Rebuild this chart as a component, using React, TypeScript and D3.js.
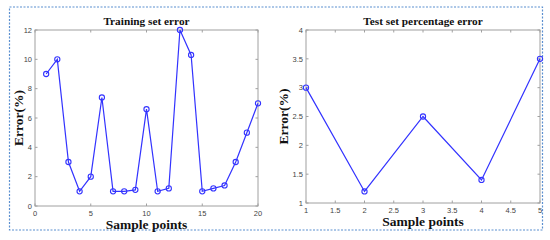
import * as d3 from "d3";
import React, { useEffect, useRef } from "react";

const trainX = [1, 2, 3, 4, 5, 6, 7, 8, 9, 10, 11, 12, 13, 14, 15, 16, 17, 18, 19, 20];
const trainErr = [9, 10, 3, 1, 2, 7.4, 1, 1, 1.1, 6.6, 1, 1.2, 12, 10.3, 1, 1.2, 1.4, 3, 5, 7];
const trainXTicks = [0, 5, 10, 15, 20];
const trainYTicks = [0, 2, 4, 6, 8, 10, 12];

const testX = [1, 2, 3, 4, 5];
const testErr = [3, 1.2, 2.5, 1.4, 3.5];
const testXTicks = [1, 1.5, 2, 2.5, 3, 3.5, 4, 4.5, 5];
const testYTicks = [1, 1.5, 2, 2.5, 3, 3.5, 4];

const W = 550;
const H = 240;
const LINE = "#3333ff";

function drawPanel(svg, opts) {
  const { left, right, top, bottom, xs, ys, xDomain, yDomain, xTicks, yTicks, title, ylabX } = opts;
  const x = d3.scaleLinear().domain(xDomain).range([left, right]);
  const y = d3.scaleLinear().domain(yDomain).range([bottom, top]);
  const g = svg.append("g");

  g.append("rect")
    .attr("x", left)
    .attr("y", top)
    .attr("width", right - left)
    .attr("height", bottom - top)
    .attr("fill", "white")
    .attr("stroke", "#a0a0a0")
    .attr("stroke-width", 1);

  const tl = 2.5;
  // ticks inward on all four sides
  xTicks.forEach((t) => {
    g.append("line").attr("x1", x(t)).attr("x2", x(t)).attr("y1", bottom).attr("y2", bottom - tl).attr("stroke", "#a0a0a0");
    g.append("line").attr("x1", x(t)).attr("x2", x(t)).attr("y1", top).attr("y2", top + tl).attr("stroke", "#a0a0a0");
    g.append("text")
      .attr("x", x(t))
      .attr("y", bottom + 10)
      .attr("text-anchor", "middle")
      .attr("font-family", "Liberation Sans, Arial, sans-serif")
      .attr("font-size", 7.5)
      .attr("fill", "#444")
      .text(String(t));
  });
  yTicks.forEach((t) => {
    g.append("line").attr("x1", left).attr("x2", left + tl).attr("y1", y(t)).attr("y2", y(t)).attr("stroke", "#a0a0a0");
    g.append("line").attr("x1", right).attr("x2", right - tl).attr("y1", y(t)).attr("y2", y(t)).attr("stroke", "#a0a0a0");
    g.append("text")
      .attr("x", left - 3)
      .attr("y", y(t) + 2.7)
      .attr("text-anchor", "end")
      .attr("font-family", "Liberation Sans, Arial, sans-serif")
      .attr("font-size", 7.5)
      .attr("fill", "#444")
      .text(String(t));
  });

  const pts = xs.map((v, i) => [v, ys[i]]);
  const line = d3.line().x((d) => x(d[0])).y((d) => y(d[1]));
  g.append("path")
    .attr("d", line(pts))
    .attr("fill", "none")
    .attr("stroke", LINE)
    .attr("stroke-width", 1.2);
  g.selectAll("circle.pt")
    .data(pts)
    .join("circle")
    .attr("cx", (d) => x(d[0]))
    .attr("cy", (d) => y(d[1]))
    .attr("r", 2.6)
    .attr("fill", "none")
    .attr("stroke", LINE)
    .attr("stroke-width", 1.1);

  g.append("text")
    .attr("x", (left + right) / 2)
    .attr("y", top - 5)
    .attr("text-anchor", "middle")
    .attr("font-family", "Liberation Serif, Times New Roman, serif")
    .attr("font-weight", "bold")
    .attr("font-size", 11.3)
    .attr("fill", "#111")
    .text(title);

  g.append("text")
    .attr("x", (left + right) / 2)
    .attr("y", bottom + 23)
    .attr("text-anchor", "middle")
    .attr("font-family", "Liberation Serif, Times New Roman, serif")
    .attr("font-weight", "bold")
    .attr("font-size", 13.5)
    .attr("fill", "#111")
    .text("Sample points");

  g.append("text")
    .attr("transform", `translate(${ylabX},${(top + bottom) / 2}) rotate(-90)`)
    .attr("text-anchor", "middle")
    .attr("font-family", "Liberation Serif, Times New Roman, serif")
    .attr("font-weight", "bold")
    .attr("font-size", 13.5)
    .attr("fill", "#111")
    .text("Error(%)");
}

export default function App() {
  const ref = useRef(null);

  useEffect(() => {
    const svg = d3.select(ref.current);
    svg.selectAll("*").remove();

    svg.append("rect").attr("width", W).attr("height", H).attr("fill", "white");

    svg.append("rect")
      .attr("x", 9.5)
      .attr("y", 7)
      .attr("width", 533)
      .attr("height", 223)
      .attr("fill", "none")
      .attr("stroke", "#5b8fd0")
      .attr("stroke-width", 1.2)
      .attr("stroke-dasharray", "2,1.5");

    drawPanel(svg, {
      left: 35,
      right: 258,
      top: 30,
      bottom: 206,
      xs: trainX,
      ys: trainErr,
      xDomain: [0, 20],
      yDomain: [0, 12],
      xTicks: trainXTicks,
      yTicks: trainYTicks,
      title: "Training set error",
      ylabX: 23,
    });

    drawPanel(svg, {
      left: 306,
      right: 540,
      top: 30,
      bottom: 203,
      xs: testX,
      ys: testErr,
      xDomain: [1, 5],
      yDomain: [1, 4],
      xTicks: testXTicks,
      yTicks: testYTicks,
      title: "Test set percentage error",
      ylabX: 288,
    });
  }, []);

  return (
    <svg
      ref={ref}
      width={W}
      height={H}
      style={{ position: "absolute", left: 0, top: 0, display: "block" }}
    />
  );
}
